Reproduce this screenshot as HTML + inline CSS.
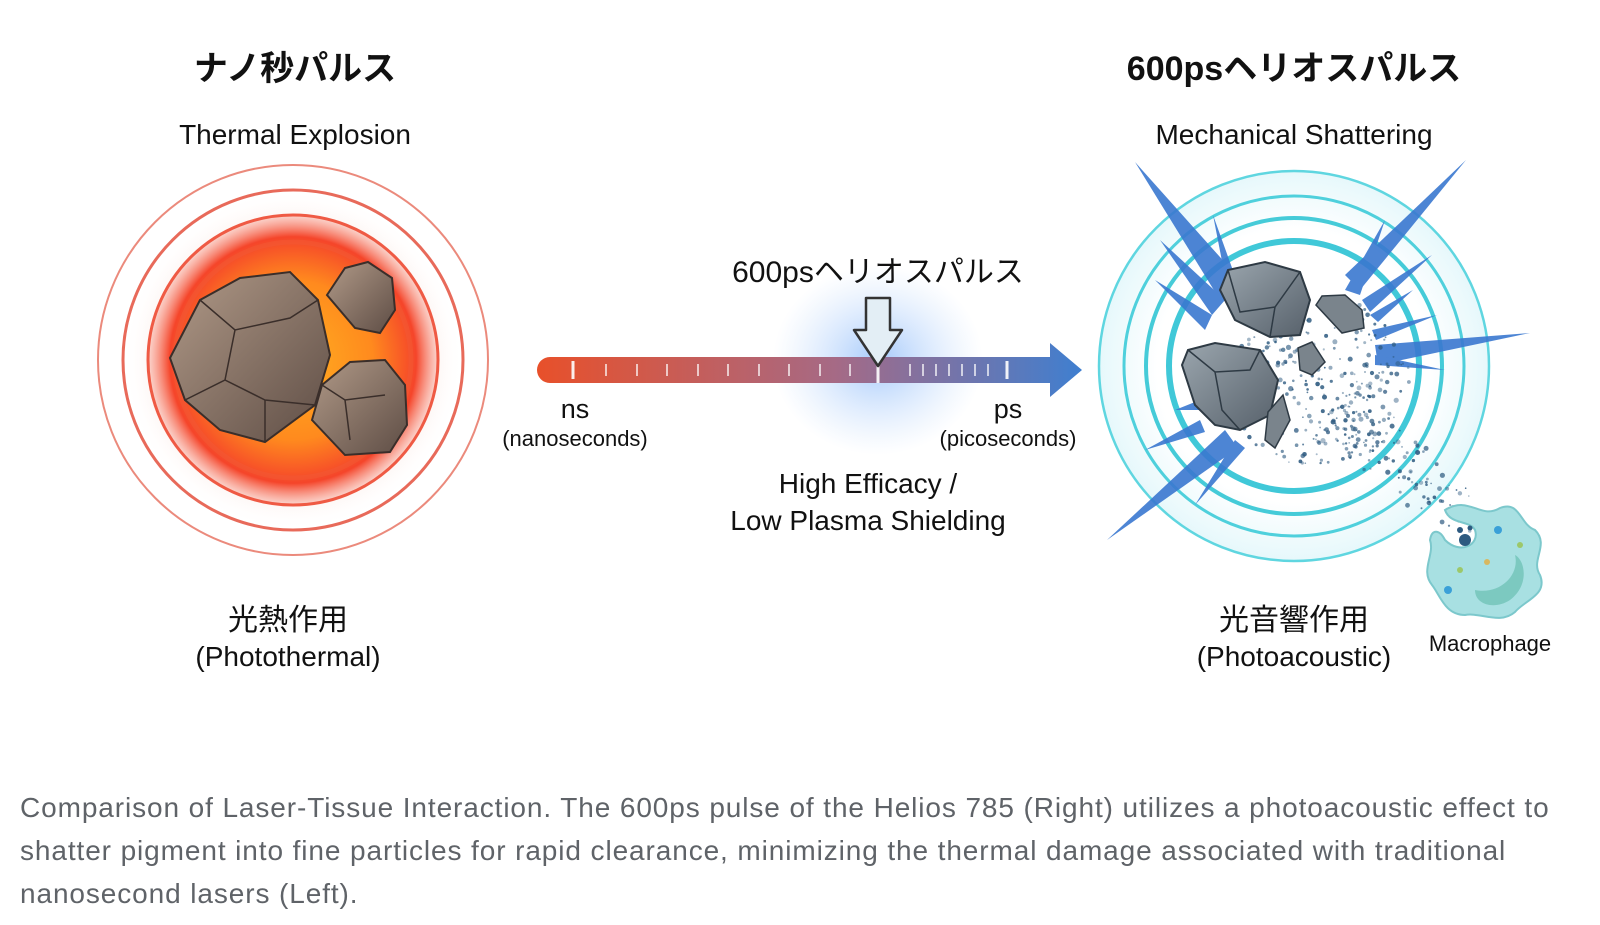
<!DOCTYPE html>
<html><head><meta charset="utf-8"><style>
html,body{margin:0;padding:0;background:#fff;width:1600px;height:925px;overflow:hidden}
svg{position:absolute;left:0;top:0}
.cap{position:absolute;left:20px;top:786px;width:1580px;white-space:nowrap;font-family:"Liberation Sans",sans-serif;font-size:28px;letter-spacing:0.9px;line-height:43px;color:#5f6368}
</style></head><body>
<svg width="1600" height="925" viewBox="0 0 1600 925" font-family="'Liberation Sans','Noto Sans CJK JP',sans-serif">
<defs>
<radialGradient id="heat" cx="0.5" cy="0.5" r="0.5">
<stop offset="0" stop-color="#ffb020"/><stop offset="0.55" stop-color="#ff8a1e"/><stop offset="0.85" stop-color="#f5452a"/><stop offset="1" stop-color="#f7a090" stop-opacity="0.4"/>
</radialGradient>
<radialGradient id="halo" cx="0.5" cy="0.5" r="0.5">
<stop offset="0.6" stop-color="#f9c6b8"/><stop offset="1" stop-color="#fff" stop-opacity="0"/>
</radialGradient>
<radialGradient id="glow" cx="0.5" cy="0.5" r="0.5">
<stop offset="0" stop-color="#9cc4fb" stop-opacity="0.9"/><stop offset="1" stop-color="#c8defc" stop-opacity="0"/>
</radialGradient>
<radialGradient id="bglow" cx="0.5" cy="0.5" r="0.5">
<stop offset="0" stop-color="#ffffff"/><stop offset="0.7" stop-color="#ffffff"/><stop offset="1" stop-color="#e6f8fb"/>
</radialGradient>
<linearGradient id="bar" x1="0" x2="1"><stop offset="0" stop-color="#e8502a"/><stop offset="0.55" stop-color="#a56a86"/><stop offset="1" stop-color="#3f7fd0"/></linearGradient>
<linearGradient id="rock" x1="0" y1="0" x2="1" y2="1"><stop offset="0" stop-color="#b19a88"/><stop offset="1" stop-color="#5e4d45"/></linearGradient>
<linearGradient id="grock" x1="0" y1="0" x2="1" y2="1"><stop offset="0" stop-color="#9ba6ae"/><stop offset="1" stop-color="#56606a"/></linearGradient>
</defs>

<text x="295" y="80" font-size="34" font-weight="bold" text-anchor="middle" fill="#111">ナノ秒パルス</text>
<text x="295" y="144" font-size="28" text-anchor="middle" fill="#111">Thermal Explosion</text>
<text x="1294" y="80" font-size="34" font-weight="bold" text-anchor="middle" fill="#111">600psヘリオスパルス</text>
<text x="1294" y="144" font-size="28" text-anchor="middle" fill="#111">Mechanical Shattering</text>

<circle cx="293" cy="360" r="195" fill="#fff" stroke="#eb8a7c" stroke-width="2"/>
<circle cx="293" cy="360" r="170" fill="url(#halo)" stroke="#e86a5a" stroke-width="3"/>
<circle cx="293" cy="360" r="145" fill="url(#heat)" stroke="#ef5a44" stroke-width="3"/>
<circle cx="293" cy="360" r="118" fill="none" stroke="#f25a35" stroke-width="5" opacity="0.5"/>
<polygon points="170,358 200,300 240,278 290,272 318,300 330,355 315,405 265,442 220,430 185,400" fill="url(#rock)" stroke="#3a2e2a" stroke-width="2"/>
<path d="M200,300 L235,330 L290,318 L318,300 M235,330 L225,380 L265,400 L315,405 M225,380 L185,400 M265,400 L265,442" stroke="#3a2e2a" stroke-width="1.5" fill="none"/>
<polygon points="327,295 345,268 368,262 392,278 395,310 380,333 355,328" fill="url(#rock)" stroke="#3a2e2a" stroke-width="2"/>
<polygon points="312,420 322,385 350,362 385,360 405,385 407,425 390,452 345,455" fill="url(#rock)" stroke="#3a2e2a" stroke-width="2"/>
<path d="M322,385 L345,400 L385,395 M345,400 L350,440" stroke="#3a2e2a" stroke-width="1.5" fill="none"/>

<text x="288" y="630" font-size="30" text-anchor="middle" fill="#111">光熱作用</text>
<text x="288" y="666" font-size="28" text-anchor="middle" fill="#111">(Photothermal)</text>

<ellipse cx="878" cy="360" rx="105" ry="95" fill="url(#glow)"/>
<text x="878" y="282" font-size="30" text-anchor="middle" fill="#111">600psヘリオスパルス</text>
<path d="M537,370 a13,13 0 0 1 13,-13 L1050,357 L1050,343 L1082,370 L1050,397 L1050,383 L550,383 a13,13 0 0 1 -13,-13 z" fill="url(#bar)"/>
<g stroke="#fff" stroke-width="1.5" opacity="0.9">
<line x1="573" y1="361" x2="573" y2="379" stroke-width="3"/>
<line x1="606" y1="364" x2="606" y2="376"/><line x1="637" y1="364" x2="637" y2="376"/><line x1="667" y1="364" x2="667" y2="376"/><line x1="698" y1="364" x2="698" y2="376"/><line x1="728" y1="364" x2="728" y2="376"/><line x1="759" y1="364" x2="759" y2="376"/><line x1="789" y1="364" x2="789" y2="376"/><line x1="820" y1="364" x2="820" y2="376"/><line x1="850" y1="364" x2="850" y2="376"/>
<line x1="878" y1="360" x2="878" y2="383" stroke-width="3"/>
<line x1="910" y1="364" x2="910" y2="376"/><line x1="923" y1="364" x2="923" y2="376"/><line x1="936" y1="364" x2="936" y2="376"/><line x1="949" y1="364" x2="949" y2="376"/><line x1="962" y1="364" x2="962" y2="376"/><line x1="975" y1="364" x2="975" y2="376"/><line x1="988" y1="364" x2="988" y2="376"/>
<line x1="1007" y1="361" x2="1007" y2="379" stroke-width="3"/>
</g>
<polygon points="866,298 890,298 890,330 902,330 878,366 854,330 866,330" fill="#e3eef5" stroke="#333" stroke-width="2.5" stroke-linejoin="round"/>
<text x="575" y="418" font-size="27" text-anchor="middle" fill="#111">ns</text>
<text x="575" y="446" font-size="22" text-anchor="middle" fill="#111">(nanoseconds)</text>
<text x="1008" y="418" font-size="27" text-anchor="middle" fill="#111">ps</text>
<text x="1008" y="446" font-size="22" text-anchor="middle" fill="#111">(picoseconds)</text>
<text x="868" y="493" font-size="28" text-anchor="middle" fill="#111">High Efficacy /</text>
<text x="868" y="530" font-size="28" text-anchor="middle" fill="#111">Low Plasma Shielding</text>

<circle cx="1294" cy="366" r="195" fill="url(#bglow)" stroke="#5fd6e0" stroke-width="2.5"/>
<circle cx="1294" cy="366" r="170" fill="none" stroke="#4fd0dc" stroke-width="3"/>
<circle cx="1294" cy="366" r="148" fill="none" stroke="#45cbd8" stroke-width="4"/>
<circle cx="1294" cy="366" r="125" fill="#fff" stroke="#40c8d8" stroke-width="6"/>
<g fill="#3a78d0" opacity="0.9">
<polygon points="1135,162 1245,285 1220,300"/>
<polygon points="1160,240 1225,300 1212,315"/>
<polygon points="1155,280 1212,315 1205,330"/>
<polygon points="1213,215 1240,290 1228,292"/>
<polygon points="1466,160 1360,290 1345,275"/>
<polygon points="1385,220 1345,290 1360,295"/>
<polygon points="1432,255 1362,300 1370,312"/>
<polygon points="1413,290 1370,315 1378,322"/>
<polygon points="1530,333 1375,345 1378,365"/>
<polygon points="1437,315 1372,330 1376,340"/>
<polygon points="1445,370 1375,355 1375,365"/>
<polygon points="1107,540 1225,430 1238,448"/>
<polygon points="1145,450 1200,420 1205,432"/>
<polygon points="1150,505 1215,440 1222,450"/>
<polygon points="1195,505 1235,440 1245,448"/>
<polygon points="1175,410 1200,400 1200,410"/>
</g>
<g id="dots" fill="#2d5a80"></g>
<polygon points="1220,290 1228,270 1265,262 1300,272 1310,300 1300,335 1270,337 1235,320" fill="url(#grock)" stroke="#2e3a44" stroke-width="2"/>
<path d="M1228,270 L1240,312 L1275,307 L1300,272 M1275,307 L1270,337" stroke="#2e3a44" stroke-width="1.5" fill="none"/>
<polygon points="1316,305 1322,296 1345,295 1362,310 1364,328 1342,333" fill="#7a848c" stroke="#2e3a44" stroke-width="1.5"/>
<polygon points="1182,365 1188,350 1215,343 1260,350 1278,380 1270,415 1240,430 1215,425 1195,405" fill="url(#grock)" stroke="#2e3a44" stroke-width="2"/>
<path d="M1188,350 L1215,372 L1250,370 L1260,350 M1215,372 L1222,410 L1240,430" stroke="#2e3a44" stroke-width="1.5" fill="none"/>
<polygon points="1298,348 1312,342 1325,362 1312,375 1300,370" fill="#7a848c" stroke="#2e3a44" stroke-width="1.5"/>
<polygon points="1268,412 1283,395 1290,420 1275,448 1265,440" fill="#7a848c" stroke="#2e3a44" stroke-width="1.5"/>

<path d="M1445,510 C1470,495 1480,520 1500,508 C1520,500 1520,525 1535,530 C1550,545 1530,560 1540,575 C1548,595 1525,600 1515,612 C1500,625 1480,612 1465,615 C1445,615 1440,595 1432,585 C1420,570 1435,555 1430,540 C1432,528 1440,530 1445,540 C1460,555 1480,545 1475,530 C1470,520 1450,525 1445,510 Z" fill="#a8e0e2" stroke="#7cc8cc" stroke-width="2"/>
<path d="M1475,590 C1500,595 1520,575 1515,555 C1525,560 1530,585 1510,600 C1495,610 1475,605 1475,590 Z" fill="#7cc9c0"/>
<circle cx="1465" cy="540" r="6" fill="#2d5a80"/><circle cx="1460" cy="530" r="3" fill="#2d5a80"/><circle cx="1470" cy="528" r="2.5" fill="#2d5a80"/>
<circle cx="1498" cy="530" r="4" fill="#3aa0d8"/><circle cx="1520" cy="545" r="3" fill="#9cc86a"/><circle cx="1487" cy="562" r="3" fill="#d8b860"/><circle cx="1460" cy="570" r="3" fill="#9cc86a"/><circle cx="1448" cy="590" r="4" fill="#3aa0d8"/>
<text x="1490" y="651" font-size="22" text-anchor="middle" fill="#111">Macrophage</text>

<text x="1294" y="630" font-size="30" text-anchor="middle" fill="#111">光音響作用</text>
<text x="1294" y="666" font-size="28" text-anchor="middle" fill="#111">(Photoacoustic)</text>
</svg>
<div class="cap">Comparison of Laser-Tissue Interaction. The 600ps pulse of the Helios 785 (Right) utilizes a photoacoustic effect to<br>shatter pigment into fine particles for rapid clearance, minimizing the thermal damage associated with traditional<br>nanosecond lasers (Left).</div>
<script>
(function(){var g=document.getElementById('dots'),s=7,h='';function r(){s=(s*9301+49297)%233280;return s/233280;}
for(var i=0;i<420;i++){var x,y;
if(i<300){var a=r()*6.28,d=Math.sqrt(r())*95;x=1315+Math.cos(a)*d;y=380+Math.sin(a)*d*0.9;}
else{var u=r();x=1330+u*140+(r()-0.5)*50;y=410+u*110+(r()-0.5)*40;}
h+='<circle cx="'+x.toFixed(1)+'" cy="'+y.toFixed(1)+'" r="'+(0.8+r()*1.8).toFixed(1)+'" opacity="'+(0.4+r()*0.5).toFixed(2)+'"/>';}
g.innerHTML=h;})();
</script>
</body></html>
